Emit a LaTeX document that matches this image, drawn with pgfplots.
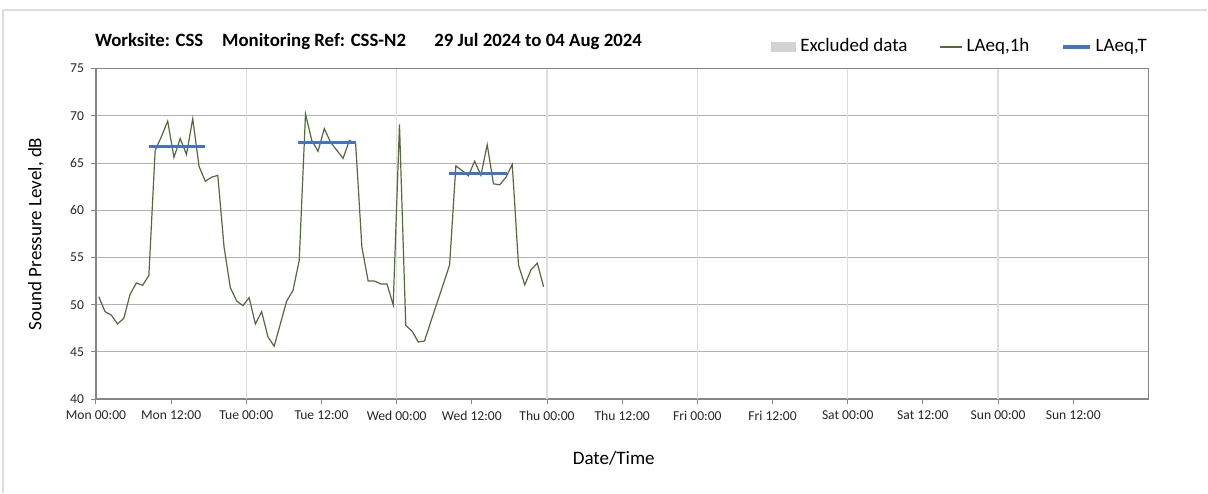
\documentclass[border=0pt]{standalone}
\usepackage{pgfplots}
\pgfplotsset{compat=1.18}
\usepackage{fontspec}
\setmainfont{Carlito}
\usetikzlibrary{calc}
\definecolor{laeqh}{RGB}{84,106,58}
\definecolor{laeqt}{RGB}{68,114,196}
\definecolor{excl}{RGB}{211,211,211}
\definecolor{hgrid}{RGB}{178,178,178}
\definecolor{vgrid}{RGB}{222,222,222}
\definecolor{axgray}{RGB}{134,134,134}

\pgfplotstableread{
x     y
0.45  50.85
1.45  49.26
2.45  48.90
3.45  47.96
4.45  48.56
5.45  51.10
6.45  52.30
7.45  52.05
8.45  53.10
9.45  66.35
10.45 67.80
11.45 69.45
12.45 65.60
13.45 67.60
14.45 65.90
15.45 69.70
16.45 64.66
17.45 63.08
18.45 63.50
19.45 63.70
20.45 56.10
21.45 51.80
22.45 50.40
23.45 49.90
24.45 50.74
25.45 47.96
26.45 49.26
27.45 46.60
28.45 45.60
29.45 48.00
30.45 50.40
31.45 51.50
32.45 54.70
33.45 70.20
34.45 67.40
35.45 66.25
36.45 68.65
37.45 67.20
38.45 66.35
39.45 65.50
40.45 67.40
41.45 67.10
42.45 56.10
43.45 52.50
44.45 52.50
45.45 52.20
46.45 52.20
47.45 49.97
48.45 69.10
49.45 47.80
50.45 47.20
51.45 46.05
52.45 46.15
53.45 48.20
54.45 50.20
55.45 52.20
56.45 54.20
57.45 64.70
58.45 64.20
59.45 63.65
60.45 65.20
61.45 63.70
62.45 66.95
63.45 62.80
64.45 62.70
65.45 63.50
66.45 64.85
67.45 54.20
68.45 52.10
69.45 53.70
70.45 54.40
71.45 51.90
}\hourly

\begin{document}
\begin{tikzpicture}
\begin{axis}[
  name=ax,
  scale only axis,
  width=526.5pt, height=165.3pt,
  xmin=0, xmax=168, ymin=40, ymax=75,
  xtick={0,12,...,156},
  xticklabels={Mon 00:00, Mon 12:00, Tue 00:00, Tue 12:00, Wed 00:00, Wed 12:00, Thu 00:00, Thu 12:00, Fri 00:00, Fri 12:00, Sat 00:00, Sat 12:00, Sun 00:00, Sun 12:00},
  ytick={40,45,...,75},
  extra x ticks={24,48,...,144},
  extra x tick labels={},
  extra x tick style={grid=major, major grid style={draw=vgrid, line width=0.6pt}},
  ymajorgrids=true,
  major grid style={draw=hgrid, line width=0.5pt},
  xtick pos=bottom, ytick pos=left,
  tick align=outside,
  major tick length=2.5pt,
  tick style={axgray, line width=0.5pt},
  axis line style={axgray, line width=0.6pt},
  /pgf/number format/assume math mode=true,
  ticklabel style={font=\fontsize{6.8}{8}\selectfont, text=black!85},
  xlabel={Date/Time},
  ylabel={Sound Pressure Level, dB},
  label style={font=\fontsize{9.5}{11}\selectfont},
  xlabel style={at={(axis description cs:0.492,-0.178)}, anchor=center},
  ylabel style={at={(axis description cs:-0.057,0.5)}, anchor=center},
  title={Worksite: CSS\hspace{1em}Monitoring Ref: CSS-N2\hspace{1.5em}29 Jul 2024 to 04 Aug 2024},
  title style={at={(0,1)}, anchor=base west, yshift=4.85pt, xshift=-4pt, font=\bfseries\fontsize{9.4}{11}\selectfont},
  legend columns=3,
  legend style={at={(1.0026,1.0656)}, anchor=east, draw=none, fill=none,
    inner sep=0pt, font=\fontsize{9.5}{11}\selectfont,
    nodes={text height=7pt, text depth=2pt},
    /tikz/every even column/.append style={column sep=14pt}},
]
\addlegendimage{area legend, draw=none, fill=excl, legend image code/.code={\fill[excl] (0pt,-2.5pt) rectangle (12.5pt,2.5pt);}}
\addlegendentry{Excluded data}
\addplot[laeqh, line width=0.6pt, legend image code/.code={\draw[laeqh, line width=0.6pt] (0pt,0pt) -- (11pt,0pt);}] table[x=x, y=y] {\hourly};
\addlegendentry{LAeq,1h}
\addplot[laeqt, line width=1.6pt, legend image code/.code={\draw[laeqt, line width=1.6pt] (0pt,0pt) -- (13.5pt,0pt);}] coordinates {(8.4,66.78) (17.45,66.78)};
\addlegendentry{LAeq,T}
\addplot[laeqt, line width=1.6pt, forget plot] coordinates {(32.3,67.17) (41.5,67.17)};
\addplot[laeqt, line width=1.6pt, forget plot] coordinates {(56.35,63.9) (65.6,63.9)};
\end{axis}
\draw[vgrid, line width=0.6pt] ($(ax.south west)+(-46.5pt,-46.85pt)$) |- ($(ax.north east)+(29.5pt,29.35pt)$);
\path ($(ax.south west)+(-48pt,-46.85pt)$) rectangle ($(ax.north east)+(29.5pt,34.35pt)$);
\end{tikzpicture}
\end{document}
